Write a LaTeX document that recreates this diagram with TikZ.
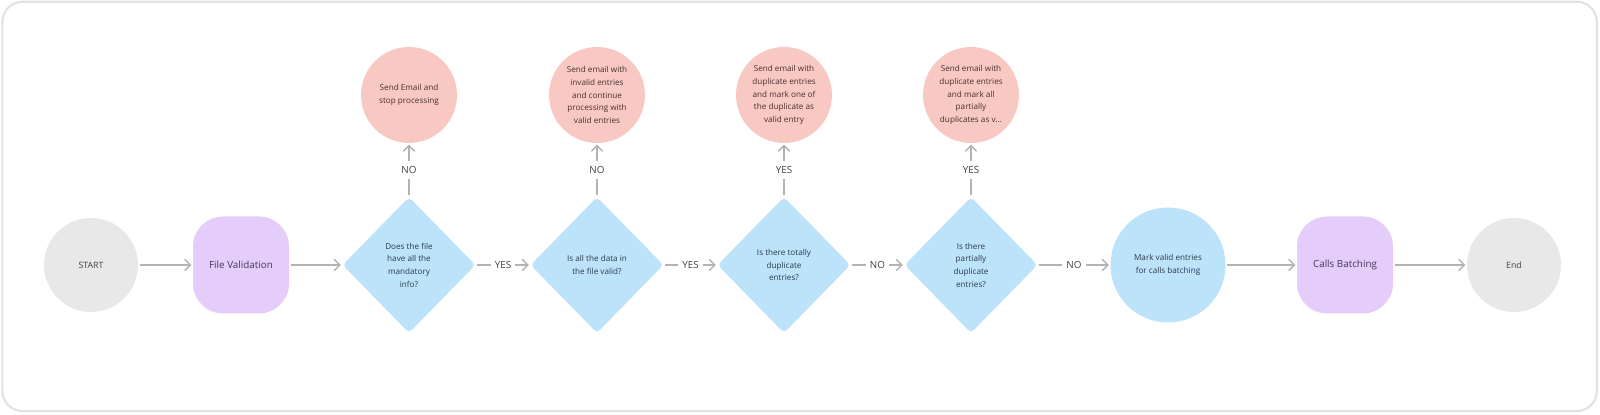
\documentclass[tikz,border=0pt]{standalone}
\usepackage{fontspec}
\setmainfont{Open Sans}
\usepackage{tikz}
\usetikzlibrary{shapes}
\usetikzlibrary{backgrounds}
\usetikzlibrary{positioning, arrows.meta}

\definecolor{termgray}{HTML}{E8E8E8}
\definecolor{procpurple}{HTML}{E4CDFB}
\definecolor{decblue}{HTML}{BDE3FA}
\definecolor{mailpink}{HTML}{F8C9C3}
\definecolor{flowgray}{HTML}{B3B3B3}
\definecolor{framegray}{HTML}{E2E2E2}

\begin{document}
\begin{tikzpicture}[every node/.style={align=center, inner sep=0pt, font=\fontsize{5.8}{9}\selectfont},
    terminal/.style={circle, fill=termgray, text=black!75, minimum size=2.35cm, font=\fontsize{6.2}{8}\selectfont},
    process/.style={rectangle, rounded corners=0.75cm, fill=procpurple, text={rgb,255:red,70;green,55;blue,90}, minimum width=2.4cm, minimum height=2.425cm, font=\fontsize{7}{9}\selectfont},
    decision/.style={diamond, rounded corners=3pt, fill=decblue, text={rgb,255:red,43;green,58;blue,74}, minimum width=3.325cm, minimum height=3.4cm},
    mail/.style={circle, fill=mailpink, text={rgb,255:red,74;green,46;blue,46}, minimum size=2.4cm},
    flow/.style={draw=flowgray, line width=1pt, -{Straight Barb[length=4pt, width=8pt]}, shorten >=1pt, shorten <=1pt},
    answer/.style={fill=white, inner xsep=3pt, inner ysep=4pt, text=black!75, font=\fontsize{7}{8}\selectfont}, scale=1]
        \useasboundingbox (0,0) rectangle (40,10.375);
        \draw[framegray, line width=1.5pt, rounded corners=0.5cm, fill=white] (0.06,0.1) rectangle (39.92,10.33);

        \node[terminal] (start) at (2.275,3.75) {START};
        \node[process] (valid) at (6.025,3.75) {File Validation};

        \node[decision] (mand) at (10.225,3.75) {Does the file\\have all the\\mandatory\\info?};
        \node[decision] (data) at (14.925,3.75) {Is all the data in\\the file valid?};
        \node[decision] (total) at (19.6,3.75) {Is there totally\\duplicate\\entries?};
        \node[decision] (part) at (24.275,3.75) {Is there\\partially\\duplicate\\entries?};

        \node[circle, fill=decblue, text={rgb,255:red,43;green,58;blue,74}, minimum size=2.875cm] (mark) at (29.2,3.75) {Mark valid entries\\for calls batching};
        \node[process] (batch) at (33.625,3.75) {Calls Batching};
        \node[terminal] (finish) at (37.85,3.75) {End};

        \node[mail] (stopmail) at (10.225,8) {Send Email and\\stop processing};
        \node[mail] (invmail) at (14.925,8) {Send email with\\invalid entries\\and continue\\processing with\\valid entries};
        \node[mail] (dupmail) at (19.6,8) {Send email with\\duplicate entries\\and mark one of\\the duplicate as\\valid entry};
        \node[mail] (partmail) at (24.275,8) {Send email with\\duplicate entries\\and mark all\\partially\\duplicates as v…};

        % Main flow
        \draw[flow] (start) -- (valid);
        \draw[flow] (valid) -- (mand);
        \draw[flow] (mand) -- node [midway, answer] {YES} (data);
        \draw[flow] (data) -- node [midway, answer] {YES} (total);
        \draw[flow] (total) -- node [midway, answer] {NO} (part);
        \draw[flow] (part) -- node [midway, answer] {NO} (mark);
        \draw[flow] (mark) -- (batch);
        \draw[flow] (batch) -- (finish);

        % Mail branches
        \draw[flow] (mand) -- node [midway, answer] {NO} (stopmail);
        \draw[flow] (data) -- node [midway, answer] {NO} (invmail);
        \draw[flow] (total) -- node [midway, answer] {YES} (dupmail);
        \draw[flow] (part) -- node [midway, answer] {YES} (partmail);
    \end{tikzpicture}
\end{document}
